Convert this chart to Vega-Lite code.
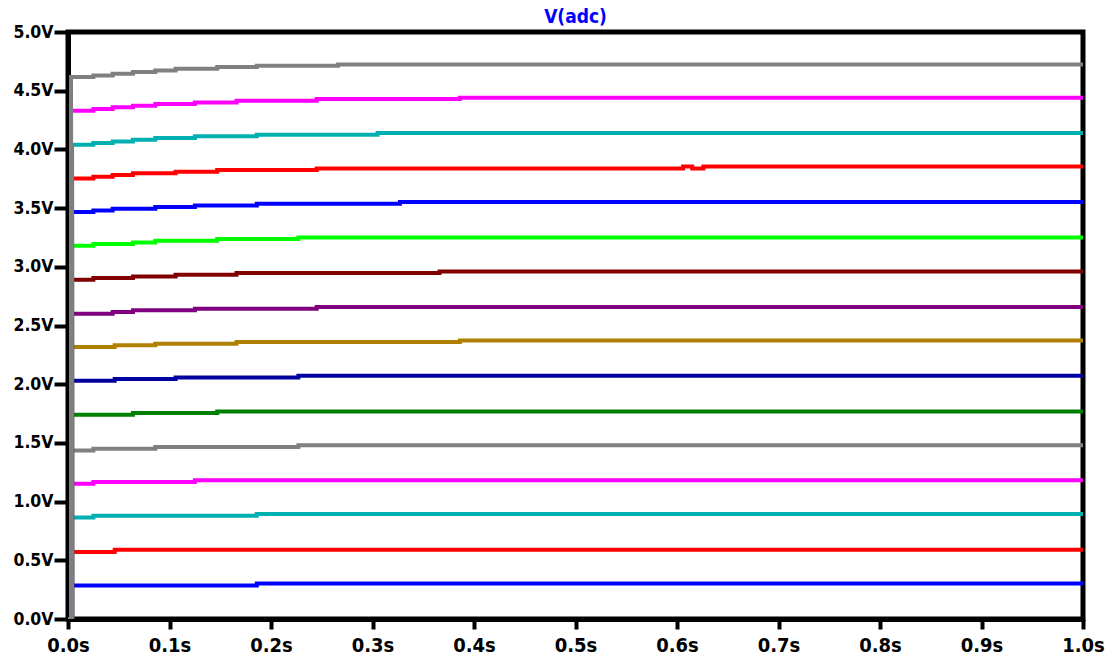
{
  "$schema": "https://vega.github.io/schema/vega-lite/v6.json",
  "width": 1015,
  "height": 587,
  "autosize": {"type": "none"},
  "padding": {"left": 68, "top": 32, "right": 34, "bottom": 37},
  "background": "white",
  "view": {"stroke": "black", "strokeWidth": 5},
  "title": {"text": "V(adc)", "color": "#0000FF", "fontSize": 19, "fontWeight": "bold", "font": "DejaVu Sans Condensed", "anchor": "middle", "offset": 6, "dy": 10},
  "config": {
    "font": "DejaVu Sans Condensed",
    "view": {"stroke": "black", "strokeWidth": 5},
    "axis": {"grid": false, "domainColor": "black", "domainWidth": 5, "tickColor": "black", "tickWidth": 4, "labelFont": "DejaVu Sans Condensed", "labelFontWeight": "bold", "labelColor": "black", "title": null}
  },
  "data": {"values": [
    {"s":"s01","t":0,"v":0},{"s":"s01","t":0.004,"v":0.286},{"s":"s01","t":0.186,"v":0.303},{"s":"s01","t":1,"v":0.303},
    {"s":"s02","t":0,"v":0},{"s":"s02","t":0.004,"v":0.571},{"s":"s02","t":0.046,"v":0.590},{"s":"s02","t":1,"v":0.590},
    {"s":"s03","t":0,"v":0},{"s":"s03","t":0.004,"v":0.865},{"s":"s03","t":0.025,"v":0.880},{"s":"s03","t":0.186,"v":0.894},{"s":"s03","t":1,"v":0.894},
    {"s":"s04","t":0,"v":0},{"s":"s04","t":0.004,"v":1.152},{"s":"s04","t":0.025,"v":1.167},{"s":"s04","t":0.125,"v":1.181},{"s":"s04","t":1,"v":1.181},
    {"s":"s05","t":0,"v":0},{"s":"s05","t":0.004,"v":1.436},{"s":"s05","t":0.025,"v":1.451},{"s":"s05","t":0.086,"v":1.465},{"s":"s05","t":0.227,"v":1.479},{"s":"s05","t":1,"v":1.479},
    {"s":"s06","t":0,"v":0},{"s":"s06","t":0.004,"v":1.740},{"s":"s06","t":0.064,"v":1.755},{"s":"s06","t":0.147,"v":1.768},{"s":"s06","t":1,"v":1.768},
    {"s":"s07","t":0,"v":0},{"s":"s07","t":0.004,"v":2.030},{"s":"s07","t":0.046,"v":2.044},{"s":"s07","t":0.106,"v":2.058},{"s":"s07","t":0.227,"v":2.072},{"s":"s07","t":1,"v":2.072},
    {"s":"s08","t":0,"v":0},{"s":"s08","t":0.004,"v":2.317},{"s":"s08","t":0.046,"v":2.331},{"s":"s08","t":0.086,"v":2.345},{"s":"s08","t":0.166,"v":2.359},{"s":"s08","t":0.386,"v":2.373},{"s":"s08","t":1,"v":2.373},
    {"s":"s09","t":0,"v":0},{"s":"s09","t":0.004,"v":2.601},{"s":"s09","t":0.044,"v":2.615},{"s":"s09","t":0.064,"v":2.629},{"s":"s09","t":0.125,"v":2.643},{"s":"s09","t":0.245,"v":2.658},{"s":"s09","t":1,"v":2.658},
    {"s":"s10","t":0,"v":0},{"s":"s10","t":0.004,"v":2.890},{"s":"s10","t":0.025,"v":2.905},{"s":"s10","t":0.064,"v":2.918},{"s":"s10","t":0.106,"v":2.933},{"s":"s10","t":0.166,"v":2.947},{"s":"s10","t":0.366,"v":2.961},{"s":"s10","t":1,"v":2.961},
    {"s":"s11","t":0,"v":0},{"s":"s11","t":0.004,"v":3.180},{"s":"s11","t":0.025,"v":3.194},{"s":"s11","t":0.064,"v":3.208},{"s":"s11","t":0.086,"v":3.222},{"s":"s11","t":0.147,"v":3.237},{"s":"s11","t":0.227,"v":3.250},{"s":"s11","t":1,"v":3.250},
    {"s":"s12","t":0,"v":0},{"s":"s12","t":0.004,"v":3.467},{"s":"s12","t":0.025,"v":3.480},{"s":"s12","t":0.044,"v":3.495},{"s":"s12","t":0.086,"v":3.509},{"s":"s12","t":0.125,"v":3.523},{"s":"s12","t":0.186,"v":3.538},{"s":"s12","t":0.327,"v":3.552},{"s":"s12","t":1,"v":3.552},
    {"s":"s13","t":0,"v":0},{"s":"s13","t":0.004,"v":3.753},{"s":"s13","t":0.025,"v":3.767},{"s":"s13","t":0.044,"v":3.782},{"s":"s13","t":0.064,"v":3.796},{"s":"s13","t":0.106,"v":3.810},{"s":"s13","t":0.147,"v":3.824},{"s":"s13","t":0.245,"v":3.838},{"s":"s13","t":0.606,"v":3.855},{"s":"s13","t":0.615,"v":3.838},{"s":"s13","t":0.626,"v":3.855},{"s":"s13","t":1,"v":3.855},
    {"s":"s14","t":0,"v":0},{"s":"s14","t":0.004,"v":4.040},{"s":"s14","t":0.025,"v":4.055},{"s":"s14","t":0.044,"v":4.068},{"s":"s14","t":0.064,"v":4.083},{"s":"s14","t":0.086,"v":4.097},{"s":"s14","t":0.125,"v":4.111},{"s":"s14","t":0.186,"v":4.125},{"s":"s14","t":0.305,"v":4.140},{"s":"s14","t":1,"v":4.140},
    {"s":"s15","t":0,"v":0},{"s":"s15","t":0.003,"v":4.330},{"s":"s15","t":0.025,"v":4.344},{"s":"s15","t":0.044,"v":4.358},{"s":"s15","t":0.064,"v":4.372},{"s":"s15","t":0.086,"v":4.387},{"s":"s15","t":0.125,"v":4.400},{"s":"s15","t":0.166,"v":4.415},{"s":"s15","t":0.245,"v":4.429},{"s":"s15","t":0.386,"v":4.440},{"s":"s15","t":1,"v":4.440},
    {"s":"s16","t":0,"v":0},{"s":"s16","t":0.003,"v":4.617},{"s":"s16","t":0.025,"v":4.630},{"s":"s16","t":0.044,"v":4.645},{"s":"s16","t":0.064,"v":4.659},{"s":"s16","t":0.086,"v":4.673},{"s":"s16","t":0.106,"v":4.687},{"s":"s16","t":0.147,"v":4.702},{"s":"s16","t":0.186,"v":4.713},{"s":"s16","t":0.266,"v":4.724},{"s":"s16","t":1,"v":4.724}
  ]},
  "mark": {"type": "line", "interpolate": "step-after", "strokeWidth": 4, "clip": true},
  "encoding": {
    "x": {"field": "t", "type": "quantitative", "scale": {"domain": [0, 1], "nice": false, "zero": false},
      "axis": {"values": [0,0.1,0.2,0.3,0.4,0.5,0.6,0.7,0.8,0.9,1.0], "labelExpr": "format(datum.value, '.1f') + 's'", "tickSize": 10, "labelPadding": 6, "labelFontSize": 20, "labelFlush": false}},
    "y": {"field": "v", "type": "quantitative", "scale": {"domain": [0, 5], "nice": false},
      "axis": {"values": [0,0.5,1,1.5,2,2.5,3,3.5,4,4.5,5], "labelExpr": "format(datum.value, '.1f') + 'V'", "tickSize": 14, "labelPadding": 1, "labelFontSize": 17.5, "labelFlush": false}},
    "color": {"field": "s", "type": "nominal", "legend": null,
      "scale": {"domain": ["s01","s02","s03","s04","s05","s06","s07","s08","s09","s10","s11","s12","s13","s14","s15","s16"],
        "range": ["#0000FF","#FF0000","#00B0B0","#FF00FF","#808080","#008000","#0000A0","#B08000","#800080","#800000","#00FF00","#0000FF","#FF0000","#00B0B0","#FF00FF","#808080"]}}
  }
}
